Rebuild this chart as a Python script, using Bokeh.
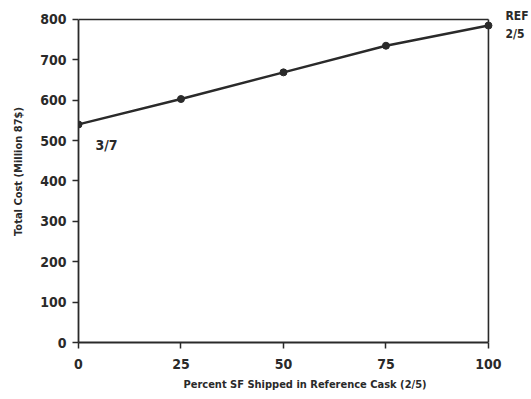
from bokeh.plotting import figure
from bokeh.models import Range1d, FixedTicker
from bokeh.core.properties import value
from bokeh.embed import file_html
from bokeh.resources import INLINE

pct_shipped = [0, 25, 50, 75, 100]
total_cost = [540, 603, 669, 735, 785]
x_ticks = [0, 25, 50, 75, 100]
y_ticks = [0, 100, 200, 300, 400, 500, 600, 700, 800]
end_labels = ["REF", "2/5"]

FONT = "'DejaVu Sans Condensed', 'Roboto', sans-serif"
INK = "#2a2a2a"

p = figure(width=531, height=399, output_backend="svg", toolbar_location=None,
           x_range=Range1d(0, 110.5), y_range=Range1d(0, 847),
           min_border_left=78, min_border_right=0, min_border_top=0, min_border_bottom=57)

# frame lines (top and right) ending at the last ticks
p.segment(x0=[x_ticks[0], x_ticks[-1]], y0=[y_ticks[-1], y_ticks[-1]],
          x1=[x_ticks[-1], x_ticks[-1]], y1=[y_ticks[-1], y_ticks[0]],
          line_color=INK, line_width=1.6)

p.line(pct_shipped, total_cost, line_color=INK, line_width=2.4)
p.scatter(pct_shipped, total_cost, marker="circle", size=7, color=INK)

p.text(x=[pct_shipped[0]], y=[total_cost[0]], text=["3/7"], x_offset=17, y_offset=21,
       text_font=value(FONT), text_font_style="bold", text_font_size="14px",
       text_color=INK, text_baseline="middle")
p.text(x=[pct_shipped[-1]] * 2, y=[total_cost[-1]] * 2, text=end_labels, x_offset=17,
       y_offset=[-10, 8], text_font=value(FONT), text_font_style="bold",
       text_font_size="12px", text_color=INK, text_baseline="middle")

p.xgrid.visible = False
p.ygrid.visible = False
p.outline_line_color = None
p.background_fill_color = "white"
p.border_fill_color = "white"

for ax in (p.xaxis[0], p.yaxis[0]):
    ax.axis_line_color = INK
    ax.axis_line_width = 1.8
    ax.major_tick_line_color = INK
    ax.major_tick_line_width = 1.5
    ax.major_tick_out = 6
    ax.major_tick_in = 0
    ax.minor_tick_line_color = None
    ax.major_label_text_font = FONT
    ax.major_label_text_font_style = "bold"
    ax.major_label_text_font_size = "14px"
    ax.major_label_text_color = INK
    ax.axis_label_text_font = FONT
    ax.axis_label_text_font_style = "bold"
    ax.axis_label_text_font_size = "11px"
    ax.axis_label_text_color = INK

p.xaxis.bounds = (x_ticks[0], x_ticks[-1])
p.yaxis.bounds = (y_ticks[0], y_ticks[-1])
p.xaxis.ticker = FixedTicker(ticks=x_ticks)
p.yaxis.ticker = FixedTicker(ticks=y_ticks)
p.xaxis.axis_label = "Percent SF Shipped in Reference Cask (2/5)"
p.yaxis.axis_label = "Total Cost (Million 87$)"
p.xaxis.major_label_standoff = 10
p.xaxis.axis_label_standoff = 6
p.yaxis.major_label_standoff = 6
p.yaxis.axis_label_standoff = 12

open("out.html", "w").write(file_html(p, INLINE))
